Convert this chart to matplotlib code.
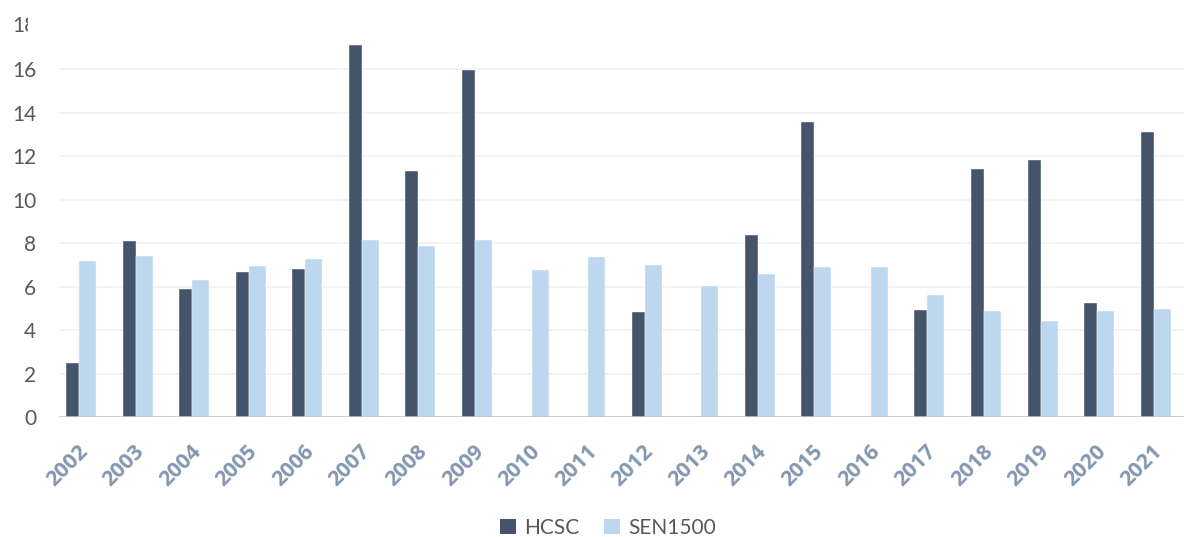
import numpy as np
import matplotlib
matplotlib.use("Agg")
import matplotlib.pyplot as plt
import matplotlib.transforms as mtransforms
from matplotlib.patches import Patch

plt.rcParams['font.family'] = ['Lato', 'DejaVu Sans']

# Yearly values for the two series (HCSC missing in several years)
years = [str(y) for y in range(2002, 2022)]
hcsc = [2.50, 8.09, 5.90, 6.69, 6.80, 17.10, 11.32, 15.98, 0, 0,
        4.86, 0, 8.37, 13.55, 0, 4.93, 11.43, 11.83, 5.27, 13.09]
sen1500 = [7.19, 7.40, 6.31, 6.97, 7.28, 8.15, 7.88, 8.14, 6.76, 7.36,
           7.00, 6.04, 6.59, 6.90, 6.90, 5.62, 4.89, 4.43, 4.90, 4.97]
yticks = [0, 2, 4, 6, 8, 10, 12, 14, 16]

dark = '#44546A'
light = '#BDD7EE'

W, H = 1184, 537
fig = plt.figure(figsize=(W / 100, H / 100), dpi=100)
ax = fig.add_axes([59 / W, (H - 417.3) / H, 1 - 59 / W, (417.3 - 30) / H])

x = np.arange(len(years))
ax.bar(x - 0.150, hcsc, width=0.23, color=dark, edgecolor='white',
       linewidth=0.3, zorder=3)
ax.bar(x + 0.115, sen1500, width=0.30, color=light, edgecolor='white',
       linewidth=0.3, zorder=3)

ax.set_xlim(-0.389, 19.5)
ax.set_ylim(0, 17.8)

ax.set_yticks(yticks)
ax.set_yticklabels([str(t) for t in yticks], fontsize=15, color='#595959')
ax.tick_params(axis='y', length=0, pad=16.5)
for t in yticks[1:]:
    ax.axhline(t, color='#F0F0F0', linewidth=1.1, zorder=1)
ax.axhline(0, color='#BFBFBF', linewidth=1.8, zorder=4)

# the 18 label sits past the top of the chart area and gets cut off
lbl = ax.text(0, 18, '18', fontsize=15, color='#595959', ha='right', va='center',
              transform=mtransforms.blended_transform_factory(
                  mtransforms.Affine2D().translate(36, 0), ax.transData))
lbl.set_clip_box(mtransforms.Bbox.from_extents(0, 0, 28, H))
lbl.set_clip_on(True)

ax.set_xticks(x)
ax.set_xticklabels(years, rotation=45, ha='right', va='top', fontsize=15.5,
                   fontweight='bold', family=['Open Sans', 'DejaVu Sans'],
                   color='#8497B0')
ax.tick_params(axis='x', length=0, pad=17)
shift = mtransforms.ScaledTranslation(11 / 100, 0, fig.dpi_scale_trans)
for lab in ax.get_xticklabels():
    lab.set_transform(lab.get_transform() + shift)

for s in ax.spines.values():
    s.set_visible(False)

handles = [Patch(facecolor=dark, label='HCSC'),
           Patch(facecolor=light, label='SEN1500')]
fig.legend(handles=handles, loc='center', bbox_to_anchor=(608 / W, 1 - 528 / H),
           ncol=2, frameon=False, fontsize=15, labelcolor='#595959',
           handlelength=0.75, handleheight=0.75, handletextpad=0.4,
           columnspacing=1.2)

fig.savefig('out.png', dpi=100)
